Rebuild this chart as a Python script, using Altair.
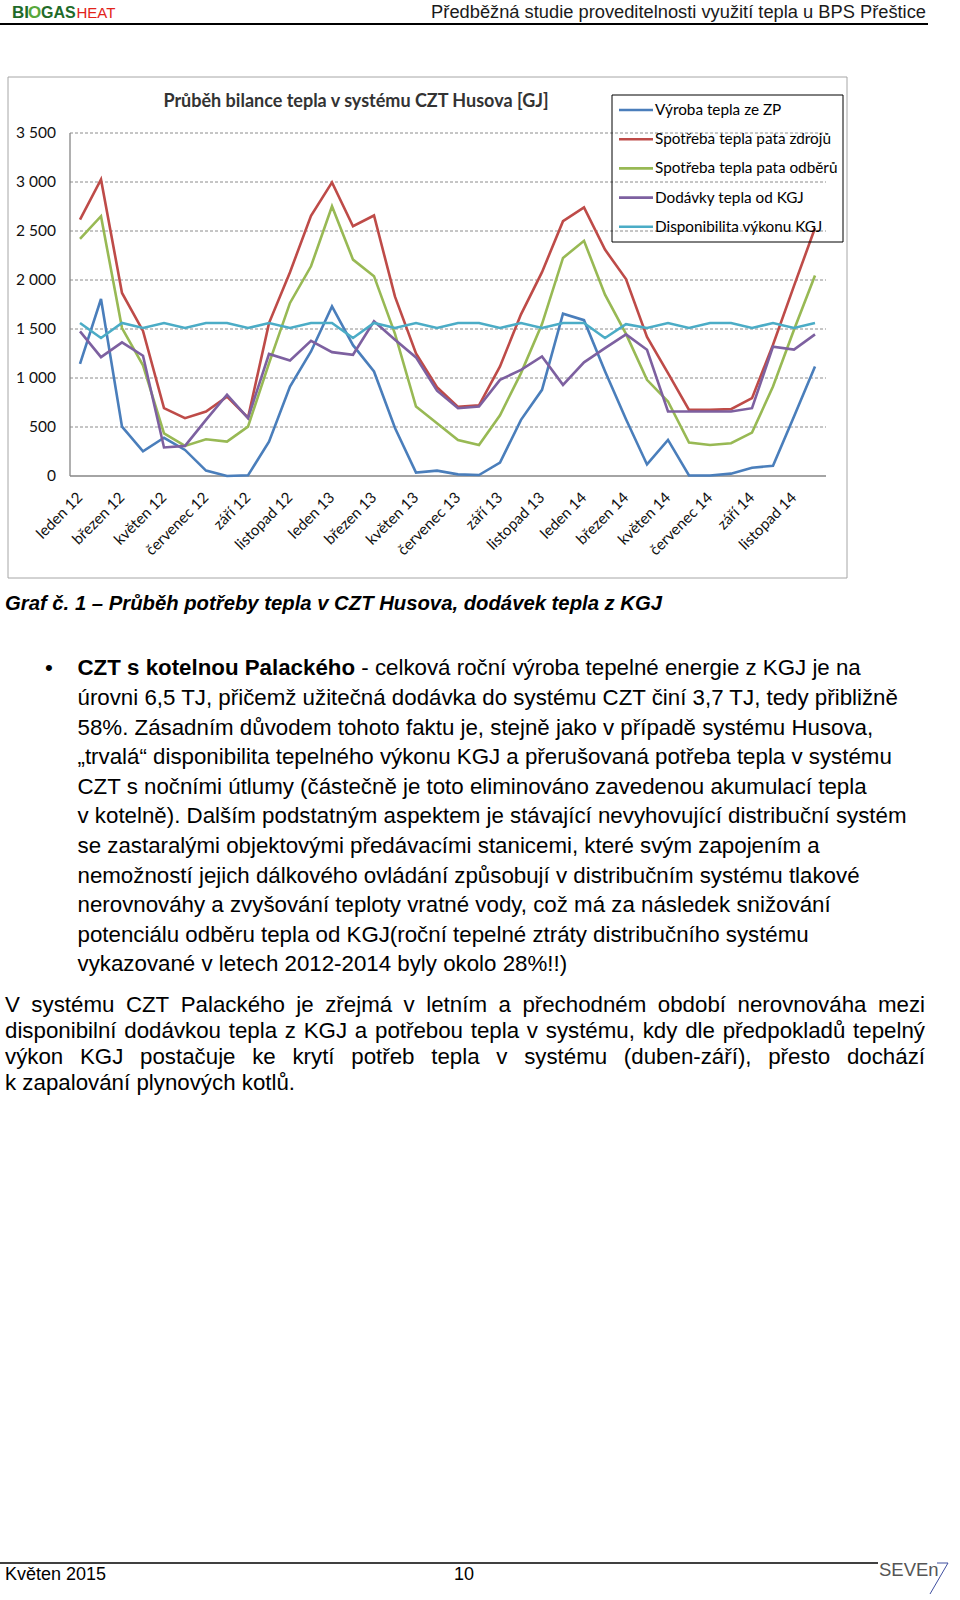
import unicodedata
import altair as alt
import pandas as pd

# ---------------- data ----------------
months = [
    "leden 12", "únor 12", "březen 12", "duben 12", "květen 12", "červen 12",
    "červenec 12", "srpen 12", "září 12", "říjen 12", "listopad 12", "prosinec 12",
    "leden 13", "únor 13", "březen 13", "duben 13", "květen 13", "červen 13",
    "červenec 13", "srpen 13", "září 13", "říjen 13", "listopad 13", "prosinec 13",
    "leden 14", "únor 14", "březen 14", "duben 14", "květen 14", "červen 14",
    "červenec 14", "srpen 14", "září 14", "říjen 14", "listopad 14", "prosinec 14",
]

vyroba_zp = [1145, 1806, 504, 252, 390, 266, 55, 0, 7, 350, 913, 1271,
             1731, 1335, 1067, 490, 34, 55, 17, 10, 136, 573, 879, 1656,
             1590, 1070, 580, 118, 368, 5, 5, 24, 85, 104, 607, 1118]
spotreba_zdroj = [2617, 3026, 1868, 1480, 692, 590, 658, 810, 595, 1560, 2080, 2655,
                  2996, 2549, 2658, 1830, 1250, 905, 705, 722, 1118, 1650, 2080, 2600,
                  2740, 2310, 2010, 1420, 1050, 675, 675, 682, 794, 1340, 1940, 2530]
spotreba_odber = [2420, 2651, 1510, 1130, 436, 307, 375, 351, 504, 1150, 1766, 2140,
                  2752, 2208, 2039, 1450, 709, 538, 368, 317, 620, 1050, 1550, 2225,
                  2400, 1850, 1450, 981, 760, 341, 317, 334, 443, 913, 1493, 2045]
dodavky_kgj = [1476, 1213, 1363, 1227, 291, 307, 573, 830, 590, 1245, 1179, 1380,
               1264, 1237, 1578, 1390, 1210, 870, 692, 709, 981, 1083, 1220, 930,
               1160, 1305, 1445, 1288, 658, 658, 658, 658, 692, 1320, 1290, 1445]
disponibilita = [1561, 1408, 1561, 1510, 1561, 1510, 1561, 1561, 1510, 1561, 1510, 1561,
                 1561, 1408, 1561, 1510, 1561, 1510, 1561, 1561, 1510, 1561, 1510, 1561,
                 1561, 1408, 1550, 1510, 1561, 1510, 1561, 1561, 1510, 1561, 1510, 1561]

series_names = ["Výroba tepla ze ZP", "Spotřeba tepla pata zdrojů", "Spotřeba tepla pata odběrů",
                "Dodávky tepla od KGJ", "Disponibilita výkonu KGJ"]
series_colors = ["#4a7ebb", "#be4b48", "#98b954", "#7d60a0", "#4bacc6"]
series_values = [vyroba_zp, spotreba_zdroj, spotreba_odber, dodavky_kgj, disponibilita]

y_ticks = [0, 500, 1000, 1500, 2000, 2500, 3000, 3500]
y_tick_labels = ["0", "500", "1 000", "1 500", "2 000", "2 500", "3 000", "3 500"]
x_tick_labels = months[::2]

chart_title = "Průběh bilance tepla v systému CZT Husova [GJ]"
header_text = "Předběžná studie proveditelnosti využití tepla u BPS Přeštice"
caption = "Graf č. 1 – Průběh potřeby tepla v CZT Husova, dodávek tepla z KGJ"
bullet_bold = "CZT s kotelnou Palackého"
bullet_lines = [
    "- celková roční výroba tepelné energie z KGJ je na",
    "úrovni 6,5 TJ, přičemž užitečná dodávka do systému CZT činí 3,7 TJ, tedy přibližně",
    "58%. Zásadním důvodem tohoto faktu je, stejně jako v případě systému Husova,",
    "„trvalá“ disponibilita tepelného výkonu KGJ a přerušovaná potřeba tepla v systému",
    "CZT s nočními útlumy (částečně je toto eliminováno zavedenou akumulací tepla",
    "v kotelně). Dalším podstatným aspektem je stávající nevyhovující distribuční systém",
    "se zastaralými objektovými předávacími stanicemi, které svým zapojením a",
    "nemožností jejich dálkového ovládání způsobují v distribučním systému tlakové",
    "nerovnováhy a zvyšování teploty vratné vody, což má za následek snižování",
    "potenciálu odběru tepla od KGJ(roční tepelné ztráty distribučního systému",
    "vykazované v letech 2012-2014 byly okolo 28%!!)",
]
para_lines = [
    "V systému CZT Palackého je zřejmá v letním a přechodném období nerovnováha mezi",
    "disponibilní dodávkou tepla z KGJ a potřebou tepla v systému, kdy dle předpokladů tepelný",
    "výkon KGJ postačuje ke krytí potřeb tepla v systému (duben-září), přesto dochází",
    "k zapalování plynových kotlů.",
]

# ---------------- text metrics (Arial / Liberation Sans) ----------------
W_REG = {' ': 278, 'a': 556, 'b': 556, 'c': 500, 'd': 556, 'e': 556, 'f': 278, 'g': 556, 'h': 556,
         'i': 222, 'j': 222, 'k': 500, 'l': 222, 'm': 833, 'n': 556, 'o': 556, 'p': 556, 'q': 556,
         'r': 333, 's': 500, 't': 278, 'u': 556, 'v': 500, 'w': 722, 'x': 500, 'y': 500, 'z': 500,
         'A': 667, 'B': 667, 'C': 722, 'D': 722, 'E': 667, 'F': 611, 'G': 778, 'H': 722, 'I': 278,
         'J': 500, 'K': 667, 'L': 556, 'M': 833, 'N': 722, 'O': 778, 'P': 667, 'Q': 778, 'R': 722,
         'S': 667, 'T': 611, 'U': 722, 'V': 667, 'W': 944, 'X': 667, 'Y': 667, 'Z': 611,
         ',': 278, '.': 278, '-': 333, '(': 333, ')': 333, '!': 278, '%': 889, 'í': 278,
         '„': 333, '“': 333}
W_BOLD = {' ': 278, 'a': 556, 'b': 611, 'c': 556, 'd': 611, 'e': 556, 'f': 333, 'g': 611, 'h': 611,
          'i': 278, 'j': 278, 'k': 556, 'l': 278, 'm': 889, 'n': 611, 'o': 611, 'p': 611, 'q': 611,
          'r': 389, 's': 556, 't': 333, 'u': 611, 'v': 556, 'w': 778, 'x': 556, 'y': 556, 'z': 500,
          'C': 722, 'Z': 611, 'T': 611, 'P': 667}


def text_width(s, size, table):
    tot = 0
    for ch in s:
        if ch in table:
            tot += table[ch]
        elif ch.isdigit():
            tot += 556
        else:
            base = unicodedata.normalize("NFD", ch)[0]
            tot += table.get(base, 556)
    return tot * size / 1000.0


# ---------------- layout constants ----------------
X_FIRST, X_LAST = 80, 815
Y_ZERO, Y_TOP = 476, 133
PLOT_L, PLOT_R = 70, 826
BODY_FONT = "Liberation Sans"
CHART_FONT = "Lato"
BODY_SIZE = 22.3

xscale = alt.Scale(type="point", domain=months, range=[X_FIRST, X_LAST], padding=0)
yscale = alt.Scale(domain=[0, 3500], range=[Y_ZERO, Y_TOP], nice=False, zero=False)
cscale = alt.Scale(domain=series_names, range=series_colors)

# ---------------- chart layers ----------------
rows = []
for name, vals in zip(series_names, series_values):
    for i, (m, v) in enumerate(zip(months, vals)):
        rows.append({"series": name, "month": m, "value": v, "idx": i})
long_df = pd.DataFrame(rows)

frame = alt.Chart(pd.DataFrame({"a": [0]})).mark_rect(
    fillOpacity=0, stroke="#a6a6a6", strokeWidth=1
).encode(x=alt.value(8), x2=alt.value(847), y=alt.value(77), y2=alt.value(578))

grid = alt.Chart(pd.DataFrame({"value": y_ticks[1:]})).mark_rule(
    color="#8c8c8c", strokeDash=[3, 2], strokeWidth=1
).encode(y=alt.Y("value:Q", scale=yscale, axis=None), x=alt.value(PLOT_L), x2=alt.value(PLOT_R))

xaxis_line = alt.Chart(pd.DataFrame({"value": [0]})).mark_rule(
    color="#868686", strokeWidth=1.3
).encode(y=alt.Y("value:Q", scale=yscale, axis=None), x=alt.value(PLOT_L), x2=alt.value(PLOT_R))

yaxis_line = alt.Chart(pd.DataFrame({"lo": [0], "hi": [3500]})).mark_rule(
    color="#868686", strokeWidth=1.3
).encode(y=alt.Y("lo:Q", scale=yscale, axis=None), y2="hi:Q", x=alt.value(PLOT_L))

lines = alt.Chart(long_df).mark_line(strokeWidth=2.6).encode(
    x=alt.X("month:N", scale=xscale, axis=None),
    y=alt.Y("value:Q", scale=yscale, axis=None),
    color=alt.Color("series:N", scale=cscale, legend=None),
    order=alt.Order("idx:Q"),
)

ylab = alt.Chart(pd.DataFrame({"value": y_ticks, "label": y_tick_labels})).mark_text(
    align="right", baseline="middle", font=CHART_FONT, fontSize=15.5, color="#111111"
).encode(y=alt.Y("value:Q", scale=yscale, axis=None), x=alt.value(56), text="label:N")

xlab = alt.Chart(pd.DataFrame({"month": x_tick_labels})).mark_text(
    align="right", baseline="middle", angle=315, font=CHART_FONT, fontSize=15.2, color="#111111"
).encode(x=alt.X("month:N", scale=xscale, axis=None), y=alt.value(495), text="month:N")

title = alt.Chart(pd.DataFrame({"t": [chart_title]})).mark_text(
    align="center", baseline="middle", font=CHART_FONT, fontSize=18, fontWeight="bold", color="#333333"
).encode(x=alt.value(356), y=alt.value(102), text="t:N")

legend_df = pd.DataFrame({
    "series": series_names,
    "ly": [110 + 29.2 * k for k in range(len(series_names))],
})
legend_box = alt.Chart(pd.DataFrame({"a": [0]})).mark_rect(
    fillOpacity=0, stroke="#000000", strokeWidth=1
).encode(x=alt.value(612), x2=alt.value(843), y=alt.value(95), y2=alt.value(242))
legend_sym = alt.Chart(legend_df).mark_rule(strokeWidth=2.6).encode(
    x=alt.value(619), x2=alt.value(653),
    y=alt.Y("ly:Q", scale=None, axis=None),
    color=alt.Color("series:N", scale=cscale, legend=None),
)
legend_txt = alt.Chart(legend_df).mark_text(
    align="left", baseline="middle", font=CHART_FONT, fontSize=15.3, color="#000000"
).encode(x=alt.value(655), y=alt.Y("ly:Q", scale=None, axis=None), text="series:N")

# ---------------- page text ----------------
def text_layer(df, **props):
    return alt.Chart(df).mark_text(baseline="middle", **props).encode(
        x=alt.X("px:Q", scale=None, axis=None),
        y=alt.Y("py:Q", scale=None, axis=None),
        text="text:N",
    )


bullet_y = [668, 698, 727.5, 757, 786.5, 816, 846, 875.5, 905, 934.5, 964]
para_y = [1005, 1030.5, 1057, 1082.5]
LEFT_B = 77.5
body = []
body.append({"px": 45, "py": bullet_y[0], "text": "•"})
first_x = LEFT_B + text_width(bullet_bold, BODY_SIZE, W_BOLD) + text_width(" ", BODY_SIZE, W_REG)
for k, (line, yy) in enumerate(zip(bullet_lines, bullet_y)):
    body.append({"px": first_x if k == 0 else LEFT_B, "py": yy, "text": line})

P_L, P_R = 5, 925
for k, (line, yy) in enumerate(zip(para_lines, para_y)):
    words = line.split(" ")
    if k == len(para_lines) - 1 or len(words) < 2:
        body.append({"px": P_L, "py": yy, "text": line})
        continue
    widths = [text_width(w, BODY_SIZE, W_REG) for w in words]
    gap = (P_R - P_L - sum(widths)) / (len(words) - 1)
    xx = P_L
    for w, ww in zip(words, widths):
        body.append({"px": xx, "py": yy, "text": w})
        xx += ww + gap
body_df = pd.DataFrame(body)

body_layer = text_layer(body_df, align="left", font=BODY_FONT, fontSize=BODY_SIZE, color="#000000")
bold_layer = text_layer(pd.DataFrame({"px": [LEFT_B], "py": [bullet_y[0]], "text": [bullet_bold]}),
                        align="left", font=BODY_FONT, fontSize=BODY_SIZE, fontWeight="bold", color="#000000")
caption_layer = text_layer(pd.DataFrame({"px": [5], "py": [604], "text": [caption]}),
                           align="left", font=BODY_FONT, fontSize=20.3, fontWeight="bold",
                           fontStyle="italic", color="#000000")
header_layer = text_layer(pd.DataFrame({"px": [926], "py": [12.5], "text": [header_text]}),
                          align="right", font=BODY_FONT, fontSize=18.3, color="#1a1a1a")
logo_a = text_layer(pd.DataFrame({"px": [12], "py": [13], "text": ["BI"]}),
                    align="left", font=BODY_FONT, fontSize=17, fontWeight="bold", color="#1f6b2a")
logo_o = text_layer(pd.DataFrame({"px": [28], "py": [13], "text": ["O"]}),
                    align="left", font=BODY_FONT, fontSize=17, fontWeight="bold", color="#58a83a")
logo_b = text_layer(pd.DataFrame({"px": [41], "py": [13], "text": ["GAS"]}),
                    align="left", font=BODY_FONT, fontSize=16, fontWeight="bold", color="#1f6b2a")
logo_c = text_layer(pd.DataFrame({"px": [76.5], "py": [13], "text": ["HEAT"]}),
                    align="left", font=BODY_FONT, fontSize=15, color="#e2231a")
footer_layer = text_layer(pd.DataFrame({"px": [5, 454], "py": [1575, 1575], "text": ["Květen 2015", "10"]}),
                          align="left", font=BODY_FONT, fontSize=18, color="#000000")
seven_layer = text_layer(pd.DataFrame({"px": [879], "py": [1570], "text": ["SEVEn"]}),
                         align="left", font=BODY_FONT, fontSize=18.5, color="#555555")

header_rule = alt.Chart(pd.DataFrame({"a": [0]})).mark_rule(color="#000000", strokeWidth=2).encode(
    x=alt.value(0), x2=alt.value(928), y=alt.value(24))
footer_rule = alt.Chart(pd.DataFrame({"a": [0]})).mark_rule(color="#000000", strokeWidth=1.5).encode(
    x=alt.value(0), x2=alt.value(878), y=alt.value(1563))
seven_top = alt.Chart(pd.DataFrame({"a": [0]})).mark_rule(color="#3f4fa0", strokeWidth=1).encode(
    x=alt.value(937), x2=alt.value(948), y=alt.value(1563))
seven_diag = alt.Chart(pd.DataFrame({"a": [0]})).mark_rule(color="#3f4fa0", strokeWidth=1).encode(
    x=alt.value(948), x2=alt.value(930), y=alt.value(1563), y2=alt.value(1594))

chart = alt.layer(
    frame, grid, xaxis_line, yaxis_line, lines, ylab, xlab, title,
    legend_box, legend_sym, legend_txt,
    header_rule, logo_a, logo_o, logo_b, logo_c, header_layer,
    caption_layer, bold_layer, body_layer,
    footer_rule, footer_layer, seven_layer, seven_top, seven_diag,
).properties(
    width=960, height=1600,
    autosize=alt.AutoSizeParams(type="none"),
    padding=0,
    background="white",
).configure_view(stroke=None)

chart.save("out.html", embed_options={"renderer": "svg", "actions": False})
